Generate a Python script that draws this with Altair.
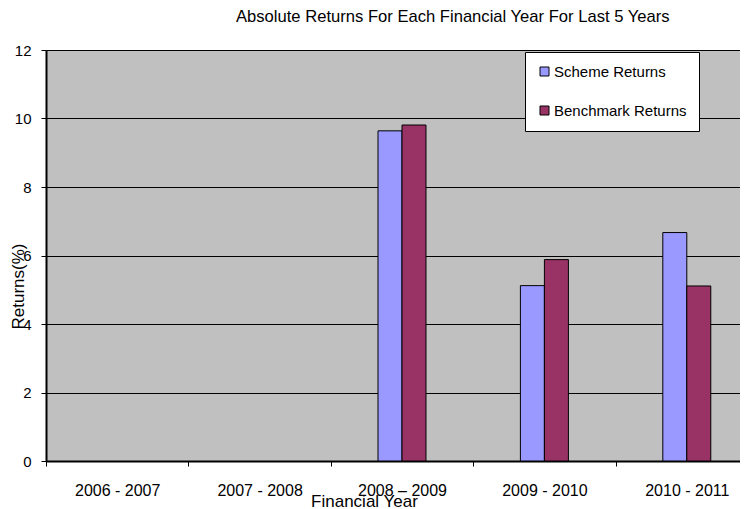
import altair as alt
import pandas as pd

title_text = "Absolute Returns For Each Financial Year For Last 5 Years"
years = ["2006 - 2007", "2007 - 2008", "2008 \u2013 2009", "2009 - 2010", "2010 - 2011"]
series = ["Scheme Returns", "Benchmark Returns"]
scheme = [None, None, 9.64, 5.12, 6.67]
benchmark = [None, None, 9.81, 5.88, 5.11]
colors = ["#9999FF", "#993366"]
y_ticks = [0, 2, 4, 6, 8, 10, 12]

rows = []
for i, yr in enumerate(years):
    rows.append({"year": yr, "series": series[0], "value": scheme[i]})
    rows.append({"year": yr, "series": series[1], "value": benchmark[i]})
df = pd.DataFrame(rows)

FONT = "Liberation Sans"

bars = alt.Chart(df).mark_bar(stroke="black", strokeWidth=1).encode(
    x=alt.X("year:N", sort=years,
            scale=alt.Scale(domain=years, range=[0, 712], paddingInner=0.663, paddingOuter=0.3315),
            axis=alt.Axis(title="Financial Year", labelAngle=0, bandPosition=0,
                          tickOffset=-47.2, labelOffset=47.2,
                          labelFontSize=16, labelPadding=16, tickSize=5, tickColor="black",
                          domainColor="black", domainWidth=2, titleFontSize=17,
                          titleFontWeight="normal", titleX=318, titleY=40,
                          titleBaseline="middle", titleAnchor="start", titleAlign="center",
                          grid=False)),
    xOffset=alt.XOffset("series:N", sort=series,
                        scale=alt.Scale(domain=series, paddingInner=0, paddingOuter=0)),
    y=alt.Y("value:Q",
            scale=alt.Scale(domain=[0, 12], nice=False),
            axis=alt.Axis(title="Returns(%)", values=y_ticks, labelFontSize=15,
                          labelPadding=10, tickSize=5, tickColor="black",
                          domainColor="black", domainWidth=2,
                          grid=True, gridColor="black", gridWidth=1, gridOpacity=1,
                          titleFontSize=17, titleFontWeight="normal",
                          titleX=-28, titleY=236, titleBaseline="middle",
                          titleAlign="center", titleAngle=270)),
    color=alt.Color("series:N", sort=series,
                    scale=alt.Scale(domain=series, range=colors),
                    legend=alt.Legend(title=None, orient="none", legendX=479, legendY=2,
                                      fillColor="white", strokeColor="black",
                                      padding=12, rowPadding=23, symbolType="square",
                                      symbolSize=81, symbolStrokeColor="black",
                                      symbolStrokeWidth=1, labelFontSize=15,
                                      labelOffset=2, labelColor="black")),
)

title = alt.Chart(pd.DataFrame({"t": [title_text]})).mark_text(
    align="left", baseline="alphabetic", fontSize=16.6, color="black", font=FONT
).encode(
    x=alt.value(190), y=alt.value(-28), text="t:N"
)

chart = alt.layer(bars, title).properties(
    width=694,
    height=411,
    autosize=alt.AutoSizeParams(type="none"),
    padding={"left": 38, "top": 42, "right": 0, "bottom": 48},
).configure(
    font=FONT,
    background="white",
).configure_view(
    fill="#C0C0C0",
    stroke="#808080",
    strokeWidth=1,
).configure_axis(
    labelColor="black",
    titleColor="black",
)

chart.save("out.html", embed_options={"renderer": "svg", "actions": False})
